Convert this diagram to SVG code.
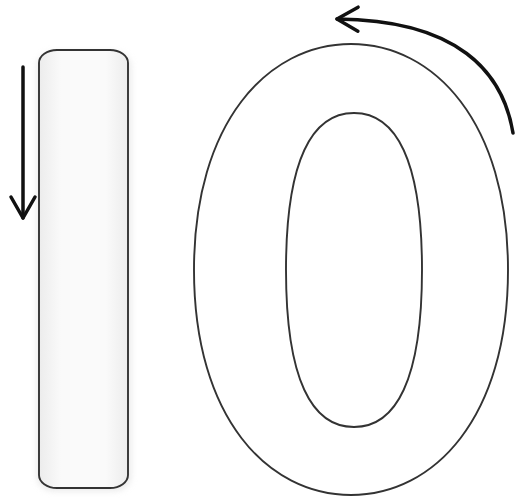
<svg xmlns="http://www.w3.org/2000/svg" width="516" height="499" viewBox="0 0 516 499">
  <defs>
    <linearGradient id="barFill" x1="0" y1="0" x2="1" y2="0">
      <stop offset="0" stop-color="#ececec"/>
      <stop offset="0.25" stop-color="#fafafa"/>
      <stop offset="0.75" stop-color="#fafafa"/>
      <stop offset="1" stop-color="#ececec"/>
    </linearGradient>
    <filter id="soft" x="-20%" y="-20%" width="140%" height="140%">
      <feGaussianBlur stdDeviation="3"/>
    </filter>
    <marker id="chev" markerUnits="userSpaceOnUse" markerWidth="30" markerHeight="30" viewBox="0 0 30 30" refX="26" refY="15" orient="auto">
      <path d="M5,3 L26,15 L5,27" fill="none" stroke="#111" stroke-width="3.5" stroke-linecap="round" stroke-linejoin="round"/>
    </marker>
  </defs>
  <style>
    .outline { fill: none; stroke: #333; stroke-width: 1.9; }
    .arrow { fill: none; stroke: #111; stroke-width: 3.5; stroke-linecap: round; marker-end: url(#chev); }
  </style>
  <rect width="516" height="499" fill="#ffffff"/>

  <g id="digit-one">
    <rect x="37" y="52" width="94" height="439" rx="18" ry="14" fill="#dcdcdc" filter="url(#soft)" opacity="0.6"/>
    <rect x="39" y="50" width="89" height="438" rx="18" ry="13" class="outline" style="fill:url(#barFill)"/>
  </g>

  <g id="digit-zero">
    <path class="outline" d="M194,270 C194,122 268,44 351,44 C434,44 508,122 508,270 C508,418 434,495 351,495 C268,495 194,418 194,270 Z"/>
    <path class="outline" d="M286,270 C286,160 312,113 354,113 C396,113 422,160 422,270 C422,380 396,427 354,427 C312,427 286,380 286,270 Z"/>
  </g>

  <g id="connectors">
    <path class="arrow" d="M23,67 L23,218"/>
    <path class="arrow" d="M513,133 C503,72 458,20 337,19"/>
  </g>
</svg>
